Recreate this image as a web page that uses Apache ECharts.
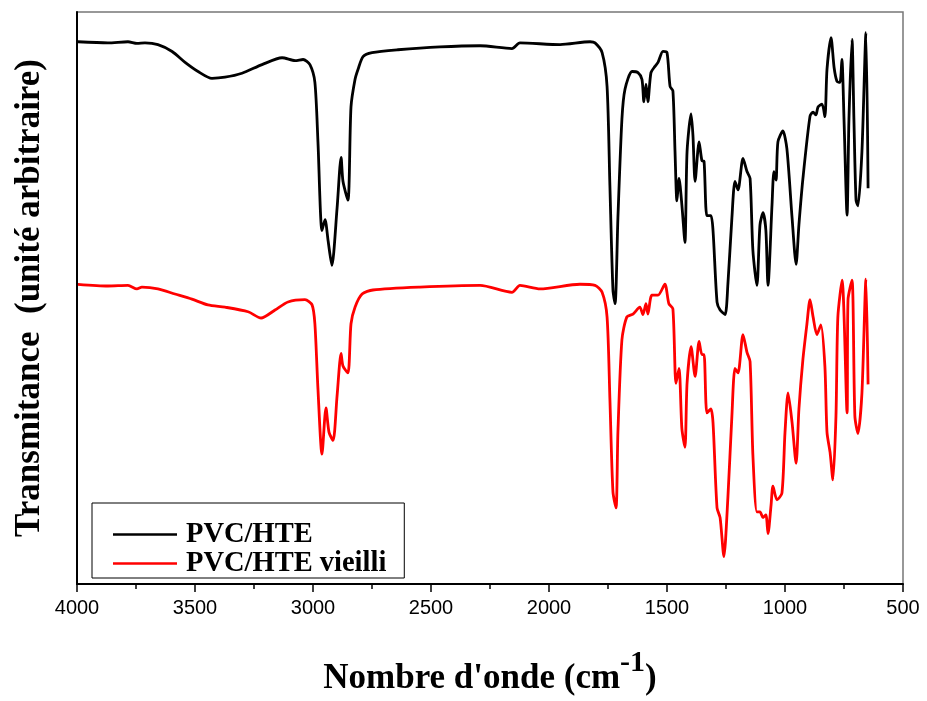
<!DOCTYPE html>
<html>
<head>
<meta charset="utf-8">
<title>Spectres IR PVC/HTE</title>
<script src="https://cdn.jsdelivr.net/npm/echarts@6/dist/echarts.min.js"></script>
<style>
  html, body { margin: 0; padding: 0; background: #fff; }
  #chart { width: 927px; height: 701px; }
</style>
</head>
<body>
<div id="chart"></div>
<script>
// Axis settings (wavenumber, cm-1)
const xTicks = [4000, 3500, 3000, 2500, 2000, 1500, 1000, 500];

// PVC/HTE : wavenumber (cm-1) and transmittance (arbitrary units)
const blackWn = [3996, 3869, 3784, 3746, 3712, 3657, 3597, 3542, 3487, 3428, 3373, 3301, 3216, 3131, 3076, 3042, 3013,
  2992, 2979, 2962, 2949, 2936, 2920, 2898, 2881, 2873, 2852, 2839, 2822, 2809, 2788, 2750, 2640, 2462, 2292, 2157, 2123,
  1953, 1826, 1805, 1775, 1754, 1742, 1729, 1720, 1708, 1691, 1678, 1648, 1623, 1606, 1598, 1589, 1581, 1568, 1551, 1538,
  1517, 1500, 1487, 1475, 1466, 1458, 1449, 1437, 1424, 1415, 1398, 1390, 1381, 1364, 1352, 1343, 1331, 1314, 1305, 1288,
  1275, 1254, 1242, 1225, 1212, 1199, 1178, 1161, 1148, 1136, 1119, 1106, 1093, 1081, 1072, 1055, 1047, 1038, 1030, 1009,
  992, 970, 953, 941, 924, 894, 881, 869, 860, 843, 831, 822, 805, 792, 780, 767, 759, 750, 737, 729, 716, 708, 699, 691,
  674, 657, 648];
const blackT = [94.8, 94.6, 94.8, 94.5, 94.6, 94.3, 93.1, 91.2, 89.6, 88.4, 88.6, 89.3, 90.8, 92.0, 91.5, 91.7, 90.8,
  87.7, 77.3, 61.8, 63.7, 60.0, 55.7, 65.7, 74.6, 70.4, 67.1, 83.4, 88.2, 90.0, 92.2, 92.9, 93.4, 93.9, 94.1, 93.6, 94.6,
  94.3, 94.8, 94.6, 92.9, 87.0, 69.7, 51.4, 49.0, 64.0, 81.3, 86.5, 89.6, 89.4, 88.2, 84.3, 87.4, 84.3, 89.4, 90.5, 91.2,
  93.1, 92.9, 87.0, 86.2, 75.6, 67.0, 70.9, 66.3, 59.7, 75.6, 82.2, 78.4, 70.4, 77.3, 74.0, 73.9, 64.4, 64.4, 61.8, 49.3,
  47.9, 47.1, 52.4, 64.0, 70.4, 68.9, 74.4, 72.1, 70.9, 58.3, 52.2, 62.8, 64.9, 61.8, 52.2, 66.3, 72.1, 70.6, 77.3, 79.2,
  76.1, 64.0, 55.9, 62.8, 70.9, 81.8, 82.5, 82.0, 83.4, 83.9, 81.7, 90.0, 95.5, 90.3, 87.9, 87.7, 91.7, 81.3, 64.5, 81.3,
  95.2, 81.3, 67.1, 66.1, 75.6, 96.4, 69.2];

// PVC/HTE vieilli : wavenumber (cm-1) and transmittance (arbitrary units)
const redWn = [3996, 3869, 3784, 3746, 3725, 3657, 3585, 3513, 3445, 3373, 3275, 3220, 3161, 3106, 3034, 3004, 2992,
  2979, 2962, 2945, 2932, 2915, 2898, 2881, 2873, 2852, 2839, 2822, 2792, 2746, 2547, 2292, 2157, 2123, 2038, 1869, 1805,
  1775, 1754, 1742, 1729, 1716, 1708, 1691, 1670, 1644, 1615, 1602, 1589, 1581, 1564, 1538, 1509, 1492, 1475, 1462, 1449,
  1437, 1424, 1415, 1398, 1381, 1364, 1352, 1343, 1331, 1314, 1305, 1288, 1275, 1259, 1242, 1225, 1212, 1199, 1178, 1161,
  1148, 1136, 1119, 1106, 1093, 1081, 1072, 1059, 1051, 1034, 1013, 1000, 987, 970, 953, 941, 924, 907, 894, 881, 865,
  848, 831, 822, 809, 797, 784, 776, 758, 737, 733, 716, 704, 691, 674, 657, 648];
const redT = [52.4, 52.1, 52.2, 51.6, 51.9, 51.6, 50.7, 49.8, 48.8, 48.4, 47.6, 46.5, 47.9, 49.3, 49.7, 48.8, 45.5,
  34.1, 22.7, 30.8, 26.5, 25.1, 32.9, 40.3, 38.1, 36.9, 45.5, 48.4, 50.7, 51.4, 51.9, 52.2, 51.0, 52.2, 51.6, 52.4, 52.2,
  51.0, 46.7, 32.4, 16.1, 13.3, 26.5, 42.7, 46.7, 47.2, 48.4, 47.1, 49.0, 47.2, 50.5, 50.5, 52.4, 49.0, 48.1, 35.1, 37.7,
  27.2, 23.9, 35.1, 41.5, 36.3, 42.4, 40.1, 40.1, 29.9, 30.6, 28.2, 13.3, 11.6, 4.8, 15.1, 29.4, 37.7, 36.9, 43.6, 40.5,
  38.9, 22.5, 12.6, 12.6, 11.6, 12.1, 8.8, 13.8, 17.1, 14.7, 15.9, 26.5, 33.4, 28.2, 21.1, 30.6, 39.3, 45.5, 49.7, 46.7, 43.6,
  45.3, 38.1, 26.5, 23.0, 18.2, 29.4, 46.7, 53.1, 29.9, 49.7, 53.1, 29.4, 26.3, 33.4, 53.3, 34.9];

const seriesNames = ['PVC/HTE', 'PVC/HTE vieilli'];
const seriesColors = ['#000000', '#ff0000'];

const zip = (xs, ys) => xs.map((x, i) => [x, ys[i]]);

const serif = "'Liberation Serif', 'Times New Roman', serif";
const sans = "'Liberation Sans', Arial, sans-serif";

const chart = echarts.init(document.getElementById('chart'), null, { renderer: 'canvas' });

chart.setOption({
  animation: false,
  backgroundColor: '#ffffff',
  grid: {
    left: 77, right: 24, top: 12, bottom: 111,
    show: true, borderColor: '#777777', borderWidth: 1.5, backgroundColor: 'transparent'
  },
  legend: {
    left: 92, top: 503,
    orient: 'vertical',
    data: seriesNames,
    icon: 'rect',
    itemWidth: 64, itemHeight: 2.5, itemGap: 0,
    padding: [17, 18, 0, 21],
    borderColor: '#000', borderWidth: 1,
    textStyle: {
      fontFamily: serif, fontWeight: 'bold', fontSize: 28.5, color: '#000',
      padding: [0, 0, 0, 4]
    }
  },
  xAxis: {
    type: 'value',
    inverse: true,
    min: 500, max: 4000, interval: 500,
    name: "{t|Nombre d'onde (cm}{s|-1}{t|)}",
    nameLocation: 'middle',
    nameGap: 64,
    nameTextStyle: {
      rich: {
        t: { fontFamily: serif, fontWeight: 'bold', fontSize: 35, color: '#000', verticalAlign: 'bottom' },
        s: { fontFamily: serif, fontWeight: 'bold', fontSize: 30, color: '#000', verticalAlign: 'bottom', padding: [0, 0, 18, 0] }
      }
    },
    axisLine: { show: true, lineStyle: { color: '#000', width: 2 } },
    axisTick: { show: true, inside: false, length: 8, lineStyle: { color: '#000', width: 1.5 } },
    minorTick: { show: true, splitNumber: 2, length: 5, lineStyle: { color: '#000', width: 1.5 } },
    axisLabel: {
      fontFamily: sans, fontSize: 20, color: '#000', margin: 14,
      formatter: v => (xTicks.includes(v) ? String(v) : '')
    },
    splitLine: { show: false }
  },
  yAxis: {
    type: 'value',
    min: 0, max: 100,
    name: 'Transmitance  (unité arbitraire)',
    nameLocation: 'middle',
    nameGap: 30,
    nameTextStyle: { fontFamily: serif, fontWeight: 'bold', fontSize: 35, color: '#000' },
    axisLine: { show: true, lineStyle: { color: '#000', width: 2 } },
    axisTick: { show: false },
    axisLabel: { show: false },
    splitLine: { show: false }
  },
  series: [
    {
      name: seriesNames[0], type: 'line', data: zip(blackWn, blackT),
      symbol: 'none', smooth: 0.25, color: seriesColors[0],
      lineStyle: { color: seriesColors[0], width: 2.8 }
    },
    {
      name: seriesNames[1], type: 'line', data: zip(redWn, redT),
      symbol: 'none', smooth: 0.25, color: seriesColors[1],
      lineStyle: { color: seriesColors[1], width: 2.8 }
    }
  ]
});
</script>
</body>
</html>
